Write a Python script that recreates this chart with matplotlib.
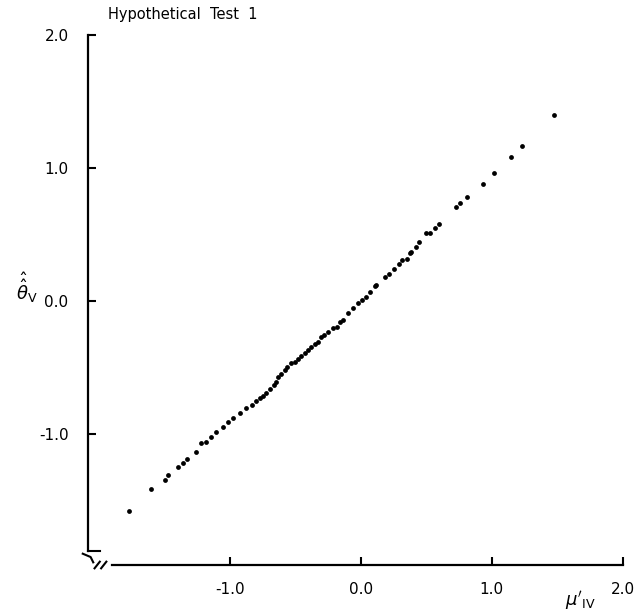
import matplotlib
matplotlib.use("Agg")
import matplotlib.pyplot as plt

# estimated data (mu'_IV, theta-hat-hat_V)
mu_iv = [-1.771, -1.603, -1.496, -1.470, -1.394, -1.356, -1.325, -1.254, -1.216,
         -1.183, -1.140, -1.102, -1.051, -1.013, -0.975, -0.924, -0.873, -0.827,
         -0.800, -0.771, -0.745, -0.720, -0.690, -0.660, -0.644, -0.631, -0.605,
         -0.580, -0.560, -0.529, -0.505, -0.478, -0.455, -0.427, -0.400, -0.376,
         -0.350, -0.326, -0.300, -0.280, -0.250, -0.215, -0.181, -0.160, -0.135,
         -0.097, -0.060, -0.021, 0.010, 0.038, 0.070, 0.107, 0.120, 0.183, 0.215,
         0.252, 0.290, 0.318, 0.349, 0.374, 0.387, 0.420, 0.445, 0.501, 0.527,
         0.570, 0.593, 0.730, 0.758, 0.814, 0.931, 1.013, 1.143, 1.227, 1.470]
theta_v = [-1.579, -1.414, -1.346, -1.308, -1.250, -1.220, -1.190, -1.133, -1.070,
           -1.058, -1.020, -0.982, -0.945, -0.907, -0.882, -0.845, -0.807, -0.782,
           -0.752, -0.732, -0.712, -0.694, -0.660, -0.628, -0.607, -0.569, -0.548,
           -0.519, -0.500, -0.469, -0.455, -0.438, -0.410, -0.393, -0.370, -0.344,
           -0.322, -0.306, -0.268, -0.255, -0.231, -0.200, -0.193, -0.160, -0.143,
           -0.092, -0.050, -0.013, 0.010, 0.028, 0.070, 0.113, 0.120, 0.178, 0.200,
           0.238, 0.275, 0.308, 0.314, 0.363, 0.371, 0.404, 0.441, 0.514, 0.509,
           0.551, 0.576, 0.709, 0.739, 0.782, 0.882, 0.965, 1.080, 1.165, 1.400]

xticks = [-1.0, 0.0, 1.0, 2.0]
yticks = [-1.0, 0.0, 1.0, 2.0]
xtick_labels = ["-1.0", "0.0", "1.0", "2.0"]
ytick_labels = ["-1.0", "0.0", "1.0", "2.0"]

fig = plt.figure(figsize=(6.38, 6.16), dpi=100)
ax = fig.add_axes([88/638, 1-565/616, (623-88)/638, (565-35)/616])

ax.scatter(mu_iv, theta_v, s=12, color="black", linewidths=0, zorder=3)

ax.set_xlim(-2.08, 2.0)
ax.set_ylim(-1.985, 2.0)

for s in ["top", "right"]:
    ax.spines[s].set_visible(False)
ax.spines["left"].set_linewidth(1.6)
ax.spines["bottom"].set_linewidth(1.6)
ax.spines["left"].set_bounds(-1.88, 2.0)
ax.spines["bottom"].set_bounds(-1.90, 2.0)

ax.set_xticks(xticks)
ax.set_xticklabels(xtick_labels)
ax.set_yticks(yticks)
ax.set_yticklabels(ytick_labels)
ax.tick_params(direction="in", length=6, width=1.5, labelsize=11, pad=12)
ax.tick_params(axis="y", pad=14)

# axis break marks
ax.plot([-2.08, -1.99], [-1.88, -1.88], color="black", lw=1.5, clip_on=False)
ax.plot([-2.12, -2.06, -2.04], [-1.90, -1.925, -1.965], color="black", lw=1.5, clip_on=False)
ax.plot([-2.03, -1.99], [-2.01, -1.96], color="black", lw=1.5, clip_on=False)
ax.plot([-1.98, -1.94], [-2.01, -1.96], color="black", lw=1.5, clip_on=False)

fig.text(108/638, 1-14/616, "Hypothetical  Test  1", fontsize=10.5, ha="left", va="center")
fig.text(27/638, 1-288/616, r"$\hat{\hat{\theta}}_{\mathrm{V}}$", fontsize=13, ha="center", va="center")
fig.text(580/638, 1-600/616, r"$\mu'_{\mathrm{IV}}$", fontsize=13, ha="center", va="center")

fig.savefig("out.png", dpi=100)
